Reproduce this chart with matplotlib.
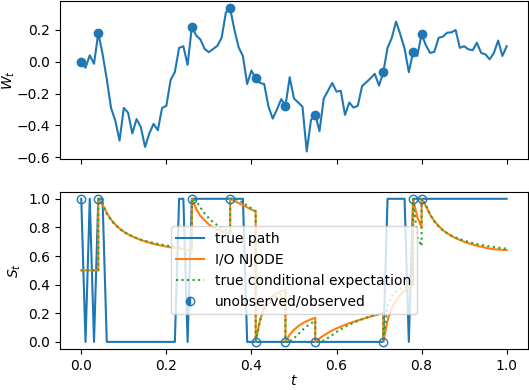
import numpy as np
import matplotlib
matplotlib.use("Agg")
import matplotlib.pyplot as plt
from matplotlib.lines import Line2D
from matplotlib.ticker import MultipleLocator

# time grid (step 0.01)
t = np.round(np.arange(0, 101) * 0.01, 2)

# Brownian path W_t
W = [0.0, -0.038, 0.04, -0.013, 0.18, 0.05, -0.11, -0.29, -0.37, -0.495,
     -0.29, -0.32, -0.45, -0.36, -0.41, -0.535, -0.45, -0.39, -0.43, -0.29,
     -0.277, -0.115, -0.065, 0.087, 0.097, -0.02, 0.22, 0.165, 0.14, 0.08,
     0.06, 0.08, 0.10, 0.15, 0.31, 0.335, 0.2, 0.09, 0.035, -0.14,
     -0.055, -0.105, -0.133, -0.14, -0.28, -0.357, -0.30, -0.235, -0.277, -0.097,
     -0.231, -0.256, -0.282, -0.563, -0.366, -0.332, -0.436, -0.231, -0.182, -0.133,
     -0.188, -0.182, -0.334, -0.256, -0.288, -0.277, -0.154, -0.129, -0.104, -0.076,
     -0.150, -0.066, 0.087, 0.150, 0.252, 0.171, 0.083, -0.066, 0.062, 0.036,
     0.173, 0.104, 0.055, 0.062, 0.150, 0.157, 0.182, 0.184, 0.199, 0.087,
     0.097, 0.078, 0.072, 0.119, 0.055, 0.046, 0.015, 0.055, 0.133, 0.036,
     0.097]

# true path S_t (0/1)
S = [1, 0, 1, 0, 1, 1, 0, 0, 0, 0,
     0, 0, 0, 0, 0, 0, 0, 0, 0, 0,
     0, 0, 0, 1, 1, 0, 1, 1, 1, 1,
     1, 1, 1, 1, 1, 1, 1, 1, 1, 0,
     0, 0, 0, 0, 0, 0, 0, 0, 0, 0,
     0, 0, 0, 0, 0, 0, 0, 0, 0, 0,
     0, 0, 0, 0, 0, 0, 0, 0, 0, 0,
     0, 0, 1, 1, 1, 1, 1, 0, 1, 1,
     1, 1, 1, 1, 1, 1, 1, 1, 1, 1,
     1, 1, 1, 1, 1, 1, 1, 1, 1, 1,
     1]

# indices of observation times
obs_idx = [0, 4, 26, 35, 41, 48, 55, 71, 78, 80]

# model output (value before each jump)
njode = [0.5, 0.5, 0.5, 0.5, 0.5, 0.96, 0.90, 0.855, 0.82, 0.792,
         0.77, 0.752, 0.737, 0.724, 0.712, 0.702, 0.693, 0.685, 0.678, 0.672,
         0.666, 0.661, 0.656, 0.651, 0.647, 0.643, 0.640, 0.93, 0.88, 0.85,
         0.82, 0.80, 0.785, 0.775, 0.765, 0.76, 0.985, 0.97, 0.955, 0.94,
         0.925, 0.91, 0.15, 0.24, 0.29, 0.32, 0.34, 0.355, 0.365, 0.05,
         0.085, 0.11, 0.13, 0.145, 0.158, 0.168, 0.025, 0.045, 0.063, 0.08,
         0.094, 0.107, 0.119, 0.13, 0.14, 0.15, 0.159, 0.168, 0.177, 0.185,
         0.193, 0.20, 0.15, 0.24, 0.29, 0.33, 0.36, 0.385, 0.40, 0.87,
         0.80, 0.95, 0.89, 0.845, 0.81, 0.78, 0.76, 0.74, 0.725, 0.712,
         0.70, 0.69, 0.68, 0.672, 0.665, 0.658, 0.652, 0.648, 0.645, 0.643,
         0.642]

# true conditional expectation (value before each jump)
cond_exp = [0.5, 0.5, 0.5, 0.5, 0.5, 0.964, 0.898, 0.851, 0.816, 0.790,
            0.769, 0.752, 0.738, 0.726, 0.715, 0.706, 0.698, 0.691, 0.685, 0.679,
            0.674, 0.669, 0.664, 0.660, 0.656, 0.653, 0.649, 0.986, 0.940, 0.898,
            0.864, 0.837, 0.815, 0.797, 0.782, 0.768, 1.0, 0.991, 0.973, 0.953,
            0.933, 0.914, 0.147, 0.229, 0.272, 0.300, 0.319, 0.334, 0.346, 0.003,
            0.025, 0.055, 0.083, 0.108, 0.129, 0.148, 0.001, 0.009, 0.028, 0.048,
            0.069, 0.088, 0.105, 0.120, 0.134, 0.147, 0.158, 0.169, 0.179, 0.188,
            0.196, 0.203, 0.255, 0.320, 0.352, 0.371, 0.384, 0.394, 0.402, 0.732,
            0.669, 0.958, 0.889, 0.841, 0.806, 0.780, 0.760, 0.743, 0.730, 0.718,
            0.708, 0.699, 0.691, 0.684, 0.678, 0.672, 0.667, 0.663, 0.658, 0.654,
            0.651]


def with_jumps(values):
    # add the jump to the observed value at every observation time after 0
    tt, vv = [], []
    for k in range(len(t)):
        tt.append(t[k])
        vv.append(values[k])
        if k in obs_idx and k > 0:
            tt.append(t[k])
            vv.append(S[k])
    return tt, vv


t_obs = [t[k] for k in obs_idx]
W_obs = [W[k] for k in obs_idx]
S_obs = [S[k] for k in obs_idx]

fig, (ax1, ax2) = plt.subplots(2, 1, sharex=True, figsize=(5.29, 3.90), dpi=100)
fig.subplots_adjust(left=0.1134, right=0.998, top=0.997, bottom=0.105, hspace=0.21)

# top: W_t with observed points
ax1.plot(t, W, color='C0')
ax1.plot(t_obs, W_obs, 'o', color='C0')
ax1.set_ylabel('$W_t$', labelpad=0)
ax1.tick_params(labelbottom=False)

# bottom: S_t, model and conditional expectation
ax2.plot(t, S, color='C0', label='true path')
tn, vn = with_jumps(njode)
ax2.plot(tn, vn, color='C1', label='I/O NJODE')
tc, vc = with_jumps(cond_exp)
ax2.plot(tc, vc, color='C2', linestyle=':', label='true conditional expectation')
ax2.plot(t_obs, S_obs, 'o', color='C0', mfc='none')
ax2.yaxis.set_major_locator(MultipleLocator(0.2))
ax2.set_ylabel('$S_t$')
ax2.set_xlabel('$t$', labelpad=1)

handles, labels = ax2.get_legend_handles_labels()
handles.append(Line2D([], [], marker='o', linestyle='none', color='C0',
                      fillstyle='left', markerfacecoloralt='white'))
labels.append('unobserved/observed')
ax2.legend(handles, labels, loc='center')

fig.savefig('out.png', dpi=100)
